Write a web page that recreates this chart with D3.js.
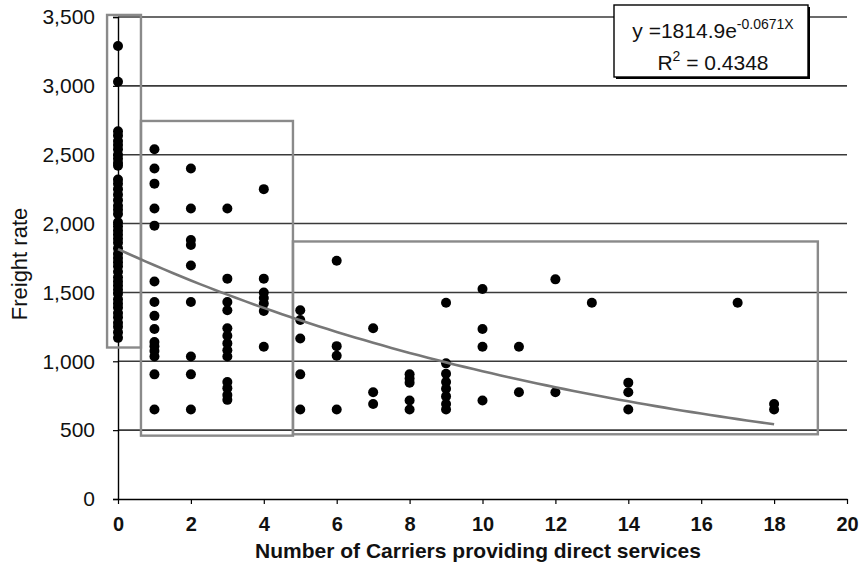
<!DOCTYPE html>
<html lang="en">
  <head>
    <meta charset="UTF-8" />
    <title>Freight rate vs number of carriers</title>
    <style>
      body { margin: 0; background: #fff; }
      svg text { font-family: 'Liberation Sans', Arial, sans-serif; fill: #111; }
      .xtick text { font-weight: bold; }
    </style>
  </head>
  <body>
    <script src="https://cdn.jsdelivr.net/npm/d3@7/dist/d3.min.js"></script>
    <script>
      // data: one array per carrier count
      const carriers = [0, 1, 2, 3, 4, 5, 6, 7, 8, 9, 10, 11, 12, 13, 14, 17, 18];
      const rates = [
        [3290, 3030, 2670, 2640, 2600, 2570, 2540, 2500, 2470, 2440, 2420, 2320, 2290, 2250, 2210, 2170,
         2130, 2100, 2070, 2010, 1980, 1950, 1920, 1890, 1860, 1820, 1780, 1750, 1720, 1690, 1650, 1610,
         1580, 1550, 1520, 1490, 1450, 1420, 1390, 1350, 1320, 1280, 1250, 1210, 1170],
        [2540, 2400, 2290, 2110, 1985, 1580, 1430, 1330, 1235, 1140, 1110, 1075, 1035, 905, 650],
        [2400, 2110, 1880, 1845, 1695, 1430, 1035, 905, 650],
        [2110, 1600, 1430, 1370, 1240, 1185, 1130, 1080, 1035, 850, 805, 755, 720],
        [2250, 1600, 1500, 1460, 1420, 1365, 1105],
        [1370, 1300, 1165, 905, 650],
        [1730, 1110, 1040, 650],
        [1240, 775, 690],
        [905, 875, 845, 715, 650],
        [1425, 985, 910, 850, 800, 745, 690, 650],
        [1525, 1235, 1105, 715],
        [1105, 775],
        [1595, 775],
        [1425],
        [845, 775, 650],
        [1425],
        [690, 650]
      ];
      // exponential fit shown in the box
      const fitA = 1814.9;
      const fitB = -0.0671;
      const fitR2 = 0.4348;
      // grouping boxes: [x0, x1, y0, y1] in data units
      const groups = [
        [-0.3, 0.63, 1100, 3515],
        [0.63, 4.8, 460, 2745],
        [4.8, 19.2, 470, 1870]
      ];
      const xTicks = [0, 2, 4, 6, 8, 10, 12, 14, 16, 18, 20];
      const yTicks = [0, 500, 1000, 1500, 2000, 2500, 3000, 3500];

      const width = 861;
      const height = 569;
      const margin = { top: 17, right: 14, bottom: 70, left: 118 };
      const innerWidth = width - margin.left - margin.right;
      const innerHeight = height - margin.top - margin.bottom;

      const svg = d3.select('body').append('svg')
        .attr('width', width)
        .attr('height', height);
      const g = svg.append('g')
        .attr('transform', `translate(${margin.left},${margin.top})`);

      const x = d3.scaleLinear().domain([0, 20]).range([0, innerWidth]);
      const y = d3.scaleLinear().domain([0, 3500]).range([innerHeight, 0]);

      // horizontal gridlines
      g.selectAll('.grid')
        .data(yTicks.filter((d) => d > 0))
        .enter()
        .append('line')
        .attr('class', 'grid')
        .attr('x1', 0)
        .attr('x2', innerWidth)
        .attr('y1', (d) => y(d))
        .attr('y2', (d) => y(d))
        .attr('stroke', '#3a3a3a')
        .attr('stroke-width', 1.6);

      // axes
      const yAxis = g.append('g')
        .call(d3.axisLeft(y).tickValues(yTicks).tickSize(5).tickPadding(18).tickFormat(d3.format(',')));
      yAxis.select('.domain').attr('stroke', '#000').attr('stroke-width', 1.4);
      yAxis.selectAll('.tick line').attr('stroke', '#000').attr('stroke-width', 1.2);
      yAxis.selectAll('.tick text').attr('font-size', 21).attr('fill', '#111');

      const xAxis = g.append('g')
        .attr('class', 'xtick')
        .attr('transform', `translate(0,${innerHeight})`)
        .call(d3.axisBottom(x).tickValues(xTicks).tickSize(5).tickSizeOuter(0).tickPadding(13));
      xAxis.select('.domain').attr('stroke', '#000').attr('stroke-width', 1.4);
      xAxis.selectAll('.tick line').attr('stroke', '#000').attr('stroke-width', 1.2);
      xAxis.selectAll('.tick text').attr('font-size', 20).attr('fill', '#111');

      // grouping boxes
      g.selectAll('.group')
        .data(groups)
        .enter()
        .append('rect')
        .attr('class', 'group')
        .attr('x', (d) => x(d[0]))
        .attr('y', (d) => y(d[3]))
        .attr('width', (d) => x(d[1]) - x(d[0]))
        .attr('height', (d) => y(d[2]) - y(d[3]))
        .attr('fill', 'none')
        .attr('stroke', '#8a8a8a')
        .attr('stroke-width', 2.4);

      // points
      const points = [];
      carriers.forEach((c, i) => rates[i].forEach((r) => points.push([c, r])));
      g.selectAll('.dot')
        .data(points)
        .enter()
        .append('circle')
        .attr('class', 'dot')
        .attr('cx', (d) => x(d[0]))
        .attr('cy', (d) => y(d[1]))
        .attr('r', 5)
        .attr('fill', '#000');

      // trendline
      const fitXs = d3.range(0, 18.01, 0.25);
      const line = d3.line()
        .x((d) => x(d))
        .y((d) => y(fitA * Math.exp(fitB * d)));
      g.append('path')
        .datum(fitXs)
        .attr('d', line)
        .attr('fill', 'none')
        .attr('stroke', '#777')
        .attr('stroke-width', 2.6);

      // equation box
      const box = svg.append('g').attr('transform', 'translate(614,5)');
      box.append('rect')
        .attr('x', 2).attr('y', 2)
        .attr('width', 194).attr('height', 72)
        .attr('fill', '#000');
      box.append('rect')
        .attr('width', 194).attr('height', 72)
        .attr('fill', '#fff')
        .attr('stroke', '#000')
        .attr('stroke-width', 1.4);
      const eq = box.append('text')
        .attr('x', 99).attr('y', 33)
        .attr('text-anchor', 'middle')
        .attr('font-size', 21);
      eq.append('tspan').text(`y =${fitA}e`);
      eq.append('tspan')
        .attr('dy', -9)
        .attr('font-size', 14)
        .text(`${fitB}X`);
      const r2 = box.append('text')
        .attr('x', 99).attr('y', 65)
        .attr('text-anchor', 'middle')
        .attr('font-size', 21);
      r2.append('tspan').text('R');
      r2.append('tspan').attr('dy', -9).attr('font-size', 14).text('2');
      r2.append('tspan').attr('dy', 9).text(` = ${fitR2}`);

      // axis titles
      svg.append('text')
        .attr('x', 478)
        .attr('y', 558)
        .attr('text-anchor', 'middle')
        .attr('font-size', 21)
        .attr('font-weight', 'bold')
        .text('Number of Carriers providing direct services');

      svg.append('text')
        .attr('transform', 'translate(27,264) rotate(-90)')
        .attr('text-anchor', 'middle')
        .attr('font-size', 22)
        .text('Freight rate');
    </script>
  </body>
</html>
